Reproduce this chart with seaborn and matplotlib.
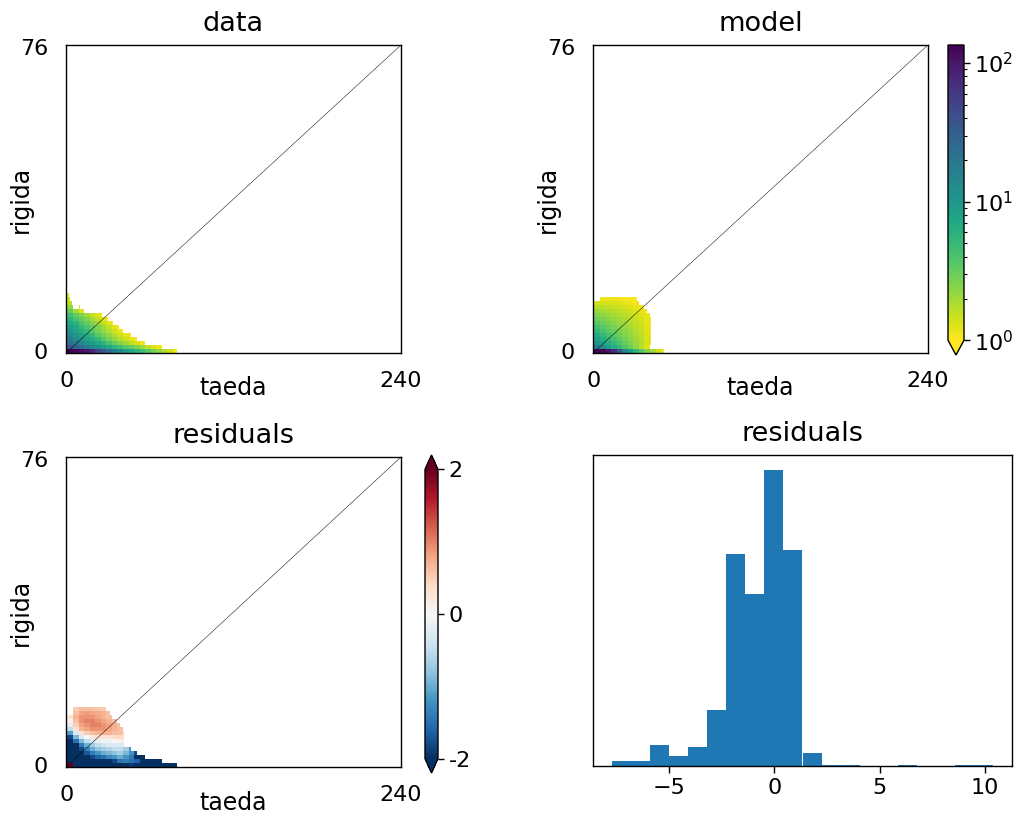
import numpy as np
import pandas as pd
import matplotlib
matplotlib.use("Agg")
import matplotlib.pyplot as plt
import seaborn as sns
from matplotlib.colors import LogNorm
from matplotlib.ticker import LogLocator, NullFormatter

nan = np.nan

# ---------------- data ----------------
N_TAEDA = 240
N_RIGIDA = 76
pop_x = "taeda"
pop_y = "rigida"
titles = ["data", "model", "residuals", "residuals"]

# log10 counts; column 0 (taeda = 0) per rigida row
data_col0 = [nan, 1.35, 1.25, 1.15, 1.05, 0.95, 0.85, 0.75, 0.7, 0.6, 0.5, 0.45,
             0.4, 0.3, 0.3, 0.25, 0.2, 0.15, 0.1, 0.08, 0.05]
# number of filled cells from column 1 on, per rigida row
data_ext = [79, 68, 56, 50, 46, 40, 37, 33, 29, 25, 12, 9, 3, 2, 1]
# log10 counts in blocks of 4 taeda columns, per rigida row
data_blocks = [
    [2.13, 2.1, 2.05, 2.0, 1.9, 1.7, 1.55, 1.4, 1.25, 1.1, 0.95, 0.85, 0.75, 0.65, 0.55, 0.45, 0.35, 0.25, 0.15, 0.05],
    [1.55, 1.45, 1.35, 1.25, 1.15, 1.05, 0.95, 0.85, 0.75, 0.65, 0.55, 0.5, 0.4, 0.3, 0.2, 0.12, 0.05],
    [1.35, 1.25, 1.15, 1.05, 0.95, 0.85, 0.75, 0.6, 0.5, 0.4, 0.3, 0.2, 0.12, 0.05],
    [1.25, 1.1, 1.0, 0.9, 0.8, 0.7, 0.55, 0.45, 0.35, 0.25, 0.15, 0.08, 0.03],
    [1.15, 1.0, 0.9, 0.8, 0.7, 0.55, 0.45, 0.35, 0.25, 0.15, 0.08, 0.03],
    [1.05, 0.9, 0.8, 0.7, 0.55, 0.45, 0.35, 0.25, 0.15, 0.05],
    [0.95, 0.85, 0.7, 0.6, 0.5, 0.4, 0.3, 0.2, 0.1, 0.04],
    [0.85, 0.75, 0.6, 0.5, 0.4, 0.3, 0.2, 0.1, 0.04],
    [0.75, 0.6, 0.5, 0.4, 0.3, 0.2, 0.1, 0.04],
    [0.65, 0.5, 0.4, 0.3, 0.2, 0.1, 0.04],
    [0.5, 0.3, 0.1],
    [0.35, nan, 0.1],
    [0.2],
    [0.15],
    [0.1],
]

model_col0 = [nan, 1.2, 1.05, 0.95, 0.85, 0.75, 0.65, 0.55, 0.45, 0.38, 0.3, 0.22, 0.12, nan]
model_ext = [50, 40, 41, 41, 41, 41, 41, 41, 41, 40, 38, 36, 32, 31]
model_blocks = [
    [2.13, 2.1, 2.0, 1.85, 1.55, 1.15, 0.95, 0.75, 0.55, 0.4, 0.28, 0.15, 0.05],
    [1.25, 1.1, 0.95, 0.82, 0.7, 0.58, 0.46, 0.35, 0.22, 0.1],
    [1.05, 0.92, 0.8, 0.7, 0.6, 0.5, 0.42, 0.33, 0.24, 0.14, 0.06],
    [0.92, 0.8, 0.7, 0.62, 0.54, 0.46, 0.38, 0.3, 0.22, 0.13, 0.05],
    [0.82, 0.7, 0.62, 0.55, 0.48, 0.41, 0.34, 0.27, 0.2, 0.12, 0.05],
    [0.72, 0.62, 0.55, 0.49, 0.43, 0.37, 0.31, 0.25, 0.18, 0.11, 0.04],
    [0.63, 0.55, 0.49, 0.44, 0.39, 0.33, 0.28, 0.22, 0.16, 0.1, 0.04],
    [0.55, 0.48, 0.43, 0.39, 0.34, 0.3, 0.25, 0.2, 0.15, 0.09, 0.03],
    [0.47, 0.42, 0.38, 0.34, 0.3, 0.26, 0.22, 0.18, 0.13, 0.08, 0.03],
    [0.4, 0.36, 0.32, 0.29, 0.26, 0.23, 0.19, 0.15, 0.11, 0.06],
    [0.32, 0.29, 0.26, 0.24, 0.21, 0.18, 0.15, 0.12, 0.08, 0.04],
    [0.24, 0.22, 0.2, 0.18, 0.16, 0.14, 0.11, 0.08, 0.05],
    [0.14, 0.14, 0.13, 0.12, 0.1, 0.08, 0.06, 0.03],
    [nan, 0.05, 0.06, 0.06, 0.05, 0.04, 0.03, 0.01],
]

resid_col0 = [nan, 1.6, 1.7, 1.8, 1.8, 1.8, 1.7, 1.6, 1.5, 1.5, 1.4, 1.3, 1.2,
              1.0, 0.8, 0.6, 0.3, 0.2, 0.1, 0.05, 0.0]
resid_ext = [79, 68, 56, 50, 46, 41, 41, 41, 41, 40, 38, 36, 32, 31, 28]
resid_blocks = [
    [2.5, -2.5, -2.5, -2.5, -2.5, -2.5, -2.5, -2.5, -2.2, -2.5, -2.5, -1.9, -2.5, -2.5, -2.5, -2.5, -2.5, -2.5, -2.5, -2.5],
    [-2.5, -2.5, -2.5, -2.2, -2.0, -2.2, -2.3, -2.0, -1.8, -1.5, -1.4, -1.5, -1.6, -2.5, -2.5, -2.5, -2.5],
    [-2.5, -2.5, -2.2, -2.0, -1.8, -1.6, -1.5, -1.3, -1.2, -1.0, -1.2, -1.4, -2.0, -2.5],
    [-2.5, -2.5, -2.0, -1.7, -1.4, -1.2, -1.0, -0.9, -0.8, -0.7, -0.9, -1.2, -1.8],
    [-2.5, -2.3, -1.8, -1.3, -1.0, -0.8, -0.7, -0.6, -0.5, -0.5, -0.7, -1.2],
    [-2.5, -2.0, -1.4, -1.0, -0.7, -0.5, -0.4, -0.3, -0.3, -0.3, -0.4],
    [-2.3, -1.5, -0.9, -0.5, -0.3, -0.2, -0.1, -0.1, 0.0, 0.1, 0.1],
    [-1.8, -0.9, -0.3, 0.0, 0.2, 0.3, 0.3, 0.3, 0.4, 0.4, 0.3],
    [-1.1, -0.3, 0.3, 0.5, 0.6, 0.7, 0.7, 0.7, 0.6, 0.6, 0.4],
    [-0.5, 0.3, 0.7, 0.8, 0.9, 0.9, 0.9, 0.8, 0.7, 0.6],
    [-0.2, 0.5, 0.8, 0.9, 1.0, 1.0, 0.9, 0.8, 0.7, 0.6],
    [0.1, 0.6, 0.9, 1.0, 1.0, 0.9, 0.8, 0.7, 0.6],
    [0.3, 0.7, 0.9, 0.9, 0.9, 0.8, 0.7, 0.6],
    [nan, 0.6, 0.8, 0.85, 0.8, 0.75, 0.7, 0.6],
    [nan, 0.5, 0.6, 0.6, 0.6, 0.55, 0.5],
]

# histogram of residuals
hist_range = (-7.71, 10.38)
hist_counts = [5, 5, 20, 9, 18, 52, 198, 161, 277, 202, 12, 1, 1, 0, 0, 1, 0, 0, 1, 1]

BLOCK = 4


def build(col0, ext, blocks):
    arr = np.full((N_RIGIDA + 1, N_TAEDA + 1), np.nan)
    for r, v in enumerate(col0):
        arr[r, 0] = v
    for r, (e, b) in enumerate(zip(ext, blocks)):
        vals = np.repeat(np.asarray(b, float), BLOCK)[:e]
        arr[r, 1:1 + len(vals)] = vals
    return arr


data_arr = 10 ** build(data_col0, data_ext, data_blocks)
model_arr = 10 ** build(model_col0, model_ext, model_blocks)
resid_arr = build(resid_col0, resid_ext, resid_blocks)

# ---------------- style ----------------
sns.set_style("white")
plt.rcParams["font.family"] = ["DejaVu Sans"]
plt.rcParams["axes.edgecolor"] = "black"
plt.rcParams["axes.linewidth"] = 1.0
plt.rcParams["xtick.color"] = "black"
plt.rcParams["ytick.color"] = "black"
plt.rcParams["text.color"] = "black"
plt.rcParams["axes.labelcolor"] = "black"
plt.rcParams["axes.titlecolor"] = "black"
FS = 16
FS_LABEL = 17
FS_TITLE = 19.5

fig = plt.figure(figsize=(10.24, 8.13), dpi=100)
W, H = 1024.0, 813.0


def rect(l, r, t, b):
    return [l / W, 1 - b / H, (r - l) / W, (b - t) / H]


ax1 = fig.add_axes(rect(66, 401, 45, 353))
ax2 = fig.add_axes(rect(593, 928, 45, 353))
cax2 = fig.add_axes(rect(948, 964, 45, 355))
ax3 = fig.add_axes(rect(66, 401, 457, 767))
cax3 = fig.add_axes(rect(425, 438, 455, 773))
ax4 = fig.add_axes(rect(593, 1012, 455, 766))

sns.heatmap(data_arr, mask=np.isnan(data_arr), cmap="viridis_r",
            norm=LogNorm(vmin=1, vmax=135), ax=ax1, cbar=False,
            xticklabels=False, yticklabels=False)
sns.heatmap(model_arr, mask=np.isnan(model_arr), cmap="viridis_r",
            norm=LogNorm(vmin=1, vmax=135), ax=ax2, cbar=True, cbar_ax=cax2,
            cbar_kws={"extend": "min"}, xticklabels=False, yticklabels=False)
sns.heatmap(resid_arr, mask=np.isnan(resid_arr), cmap="RdBu_r", vmin=-2, vmax=2,
            ax=ax3, cbar=True, cbar_ax=cax3, cbar_kws={"extend": "both"},
            xticklabels=False, yticklabels=False)

for ax, title in zip([ax1, ax2, ax3], titles[:3]):
    ax.set_ylim(0, N_RIGIDA + 1)
    ax.set_xlim(0, N_TAEDA + 1)
    for s in ax.spines.values():
        s.set_visible(True)
        s.set_color("black")
        s.set_linewidth(1.0)
    ax.plot([0, N_TAEDA + 1], [0, N_RIGIDA + 1], "-k", lw=0.35)
    ax.set_xticks([0.5, N_TAEDA + 0.5])
    ax.set_xticklabels(["0", str(N_TAEDA)], rotation=0)
    ax.set_yticks([0.5, N_RIGIDA + 0.5])
    ax.set_yticklabels(["0", str(N_RIGIDA)], rotation=0)
    ax.tick_params(length=0, pad=13, labelsize=FS)
    ax.set_xlabel(pop_x, fontsize=FS_LABEL)
    ax.xaxis.label.set_va("center")
    ax.xaxis.set_label_coords(0.5, -0.115)
    ax.set_ylabel(pop_y, fontsize=FS_LABEL)
    ax.yaxis.label.set_va("center")
    ax.yaxis.set_label_coords(-0.135, 0.5)
    ax.set_title(title, fontsize=FS_TITLE, pad=10)

for mesh_ax, cax in ((ax2, cax2), (ax3, cax3)):
    cb = mesh_ax.collections[0].colorbar
    cb.outline.set_linewidth(1.0)
    cb.outline.set_edgecolor("black")
    cax.tick_params(labelsize=FS, color="black")
cb2 = ax2.collections[0].colorbar
cb2.ax.yaxis.set_minor_locator(LogLocator(base=10, subs=np.arange(2, 10)))
cb2.ax.yaxis.set_minor_formatter(NullFormatter())
cb2.ax.tick_params(which="minor", length=2.5, width=0.8, color="black")
cb2.ax.tick_params(which="major", length=4, width=1, color="black")
cb3 = ax3.collections[0].colorbar
cb3.set_ticks([-2, 0, 2])
cb3.set_ticklabels(["-2", "0", "2"])
cb3.ax.tick_params(length=4, width=1, color="black")

# histogram panel
n_bins = len(hist_counts)
bin_w = (hist_range[1] - hist_range[0]) / n_bins
hist_df = pd.DataFrame({
    "residual": [hist_range[0] + (i + 0.5) * bin_w for i in range(n_bins)],
    "count": hist_counts,
})
sns.histplot(data=hist_df, x="residual", weights="count", bins=n_bins,
             binrange=hist_range, stat="density", color="#1f77b4", alpha=1,
             linewidth=0, ax=ax4)
ax4.set_yticks([])
ax4.set_ylabel("")
ax4.set_xlabel("")
ax4.set_title(titles[3], fontsize=FS_TITLE, pad=10)
ax4.set_xticks([-5, 0, 5, 10])
ax4.tick_params(axis="x", bottom=True, length=5, width=1, labelsize=FS, direction="out")
for s in ax4.spines.values():
    s.set_visible(True)
    s.set_color("black")
    s.set_linewidth(1.0)

fig.savefig("out.png", dpi=100)
